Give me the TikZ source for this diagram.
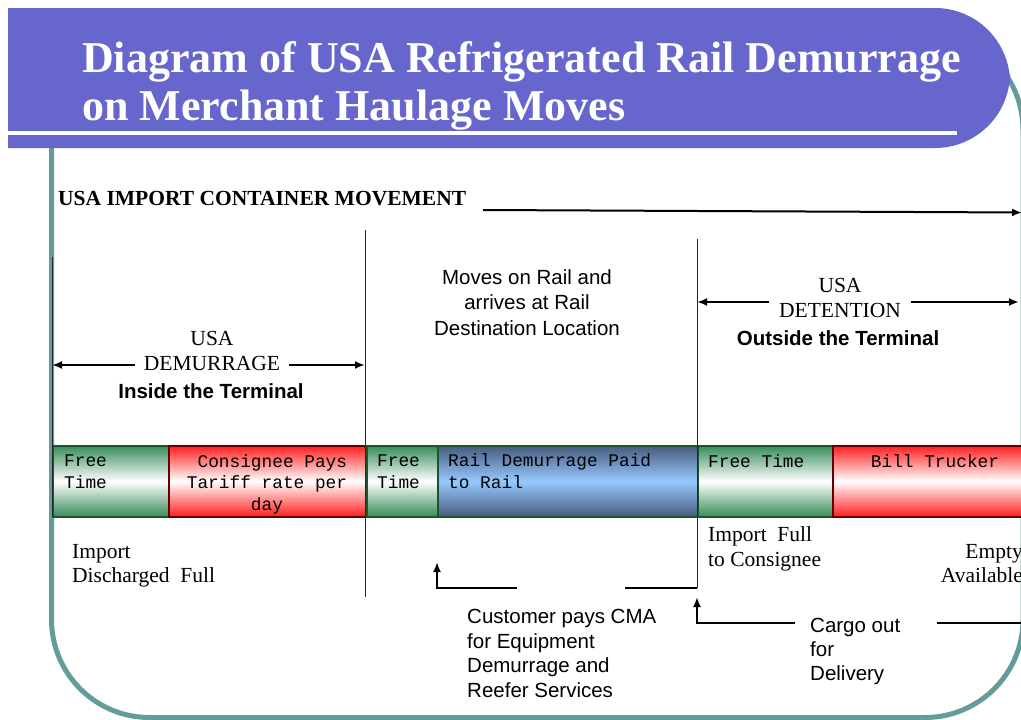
\documentclass[tikz,border=0pt]{standalone}
\usepackage{fontspec}
\setmainfont{Liberation Serif}
\newfontfamily\arialf{Liberation Sans}
\newfontfamily\courf{Liberation Mono}
\usetikzlibrary{arrows.meta}
\definecolor{frameC}{RGB}{100,155,155}
\definecolor{bannerC}{RGB}{102,102,204}
\definecolor{greenG}{RGB}{55,140,90}
\definecolor{redG}{RGB}{255,30,30}
\definecolor{blueTop}{RGB}{72,92,125}
\definecolor{blueMid}{RGB}{150,200,255}
\definecolor{edgeG}{RGB}{25,85,45}
\tikzset{
  conn/.style={line width=2.2pt, draw=black},
  thinv/.style={line width=1pt, draw=black!85},
  tipend/.style={-{Latex[length=10pt,width=8pt]}},
  tipboth/.style={{Latex[length=10pt,width=8pt]}-{Latex[length=10pt,width=8pt]}},
  barbox/.style={draw=edgeG, line width=1.5pt, anchor=north west, minimum height=71pt, inner sep=0pt},
  greenbox/.style={barbox, top color=greenG, bottom color=greenG, middle color=white},
  redbox/.style={barbox, top color=redG, bottom color=redG, middle color=white},
  bluebox/.style={barbox, top color=blueTop, bottom color=blueTop, middle color=blueMid},
  bartext/.style={font=\courf\fontsize{17.8}{21.5}\selectfont, inner sep=0pt},
  sanstext/.style={font=\arialf\fontsize{20.5}{24.5}\selectfont, inner sep=0pt},
  sansbold/.style={font=\arialf\bfseries\fontsize{20.5}{24.5}\selectfont, inner sep=0pt},
  seriftext/.style={font=\fontsize{21.5}{24.5}\selectfont, inner sep=0pt},
  titletext/.style={font=\bfseries\fontsize{44}{48}\selectfont, text=white, inner sep=0pt, anchor=base west},
}
\begin{document}
\begin{tikzpicture}[x=1pt, y=-1pt]
\useasboundingbox (0,0) rectangle (1021,720);
\fill[white] (0,0) rectangle (1021,720);

% teal frame
\draw[frameC, line width=5pt, rounded corners=98pt] (51.5,32) rectangle (1023,717.5);

% title banner
\fill[bannerC] (8,8) [rounded corners=75pt] -- (1010,8) -- (1010,148) [sharp corners] -- (8,148) -- cycle;
\fill[white] (8,130.5) rectangle (957,134.5);
\node[titletext] (title1) at (82,72) {Diagram of USA Refrigerated Rail Demurrage};
\node[titletext] (title2) at (82,120) {on Merchant Haulage Moves};

% heading and top arrow
\node[font=\bfseries\fontsize{21.5}{24}\selectfont, inner sep=0pt, anchor=base west] (head) at (58,205) {USA IMPORT CONTAINER MOVEMENT};
\coordinate (topA) at (483,210);
\coordinate (topB) at (1022,212.5);
\draw[line width=2pt, tipend] (topA) -- (topB);

% bar
\node[greenbox, minimum width=116pt] (b1) at (52,445) {};
\node[redbox, minimum width=198pt, draw=red!40!black] (b2) at (168,445) {};
\node[greenbox, minimum width=71pt] (b3) at (366,445) {};
\node[bluebox, minimum width=260pt] (b4) at (437,445) {};
\node[greenbox, minimum width=135pt] (b5) at (697,445) {};
\node[redbox, minimum width=208pt, draw=red!40!black] (b6) at (832,445) {};

\node[bartext, anchor=base west, align=left] (t1) at (64,488) {Free\\Time};
\node[bartext, anchor=base, align=center] (t2) at (267,510) {\hphantom{x}Consignee Pays\\Tariff rate per\\day};
\node[bartext, anchor=base west, align=left] (t3) at (377,488) {Free\\Time};
\node[bartext, anchor=base west, align=left] (t4) at (448,488) {Rail Demurrage Paid\\to Rail};
\node[bartext, anchor=base west] (t5) at (708,467) {Free Time};
\node[bartext, anchor=base] (t6) at (935,467) {Bill Trucker};

% vertical lines
\coordinate (v0t) at (52,257);
\coordinate (v0b) at (52,516);
\coordinate (v1t) at (365.5,230);
\coordinate (v1b) at (365.5,597);
\coordinate (v2t) at (697,239);
\coordinate (v2b) at (697,588);
\draw[thinv] (v0t) -- (v0b);
\draw[thinv] (v1t) -- (v1b);
\draw[thinv] (v2t) -- (v2b);

% demurrage double arrow
\coordinate (dL) at (52,365);
\coordinate (dR) at (365,365);
\draw[conn, tipboth] (dL) -- (dR);
\node[seriftext, align=center, anchor=base, fill=white, inner xsep=9pt, inner ysep=1pt] (dem) at (212,370) {USA\\DEMURRAGE};
\node[sansbold, anchor=base] (inside) at (211,398) {Inside the Terminal};

% detention double arrow
\coordinate (eL) at (697,302);
\coordinate (eR) at (1019,302);
\draw[conn, tipboth] (eL) -- (eR);
\node[seriftext, align=center, anchor=base, fill=white, inner xsep=10pt, inner ysep=1pt] (det) at (840,317) {USA\\DETENTION};
\node[sansbold, anchor=base] (outside) at (838,345) {Outside the Terminal};

% rail text
\node[sanstext, align=center, anchor=base, font=\arialf\fontsize{20.5}{25.5}\selectfont] (rail) at (527,335) {Moves on Rail and\\arrives at Rail\\Destination Location};

% lower texts
\node[seriftext, align=left, anchor=base west, font=\fontsize{21.5}{24}\selectfont] (impd) at (72,582) {Import\\Discharged\ \ Full};
\node[seriftext, align=left, anchor=base west, font=\fontsize{21.5}{25}\selectfont] (impf) at (708,566) {Import\ \ Full\\to Consignee};
\node[seriftext, align=right, anchor=base east, font=\fontsize{21.5}{24}\selectfont] (empty) at (1023,582) {Empty\\Available};
\node[sanstext, align=left, anchor=base west] (cust) at (467,697) {Customer pays CMA\\for Equipment\\Demurrage and\\Reefer Services};
\node[sanstext, align=left, anchor=base west, font=\arialf\fontsize{20.5}{24}\selectfont] (cargo) at (810,680) {Cargo out\\for\\Delivery};

% customer connector
\coordinate (c1a) at (517,588);
\coordinate (c1b) at (437,588);
\coordinate (c1c) at (437,562);
\coordinate (c2a) at (625,588);
\draw[conn, tipend] (c1a) -- (c1b) -- (c1c);
\draw[conn] (c2a) -- (v2b);

% cargo connector
\coordinate (g1a) at (795,623);
\coordinate (g1b) at (697,623);
\coordinate (g1c) at (697,597);
\coordinate (g2a) at (937,623);
\coordinate (g2b) at (1021,623);
\draw[conn, tipend] (g1a) -- (g1b) -- (g1c);
\draw[conn] (g2a) -- (g2b);
\end{tikzpicture}
\end{document}
